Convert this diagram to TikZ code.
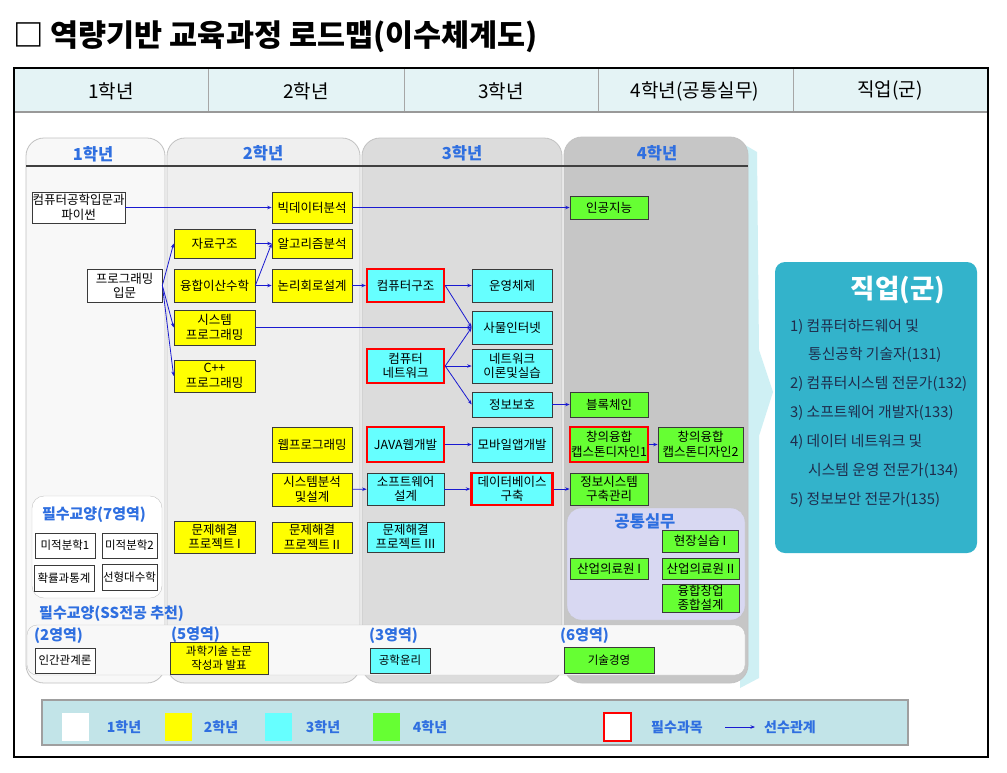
\documentclass[tikz,border=0pt]{standalone}
\usepackage{fontspec}
\setmainfont{Noto Sans CJK KR}
\usepackage{xcolor}
\usetikzlibrary{calc,positioning,arrows.meta}
\definecolor{HeadRow}{HTML}{E4F3F5}
\definecolor{PanelA}{HTML}{F8F8F8}
\definecolor{PanelB}{HTML}{EFEFEF}
\definecolor{PanelC}{HTML}{DCDCDC}
\definecolor{PanelD}{HTML}{C6C6C6}
\definecolor{PanelLine}{HTML}{C2C2C2}
\definecolor{Yel}{HTML}{FFFF00}
\definecolor{Aqua}{HTML}{66FFFF}
\definecolor{Lime}{HTML}{66FF33}
\definecolor{Link}{HTML}{1A1AD0}
\definecolor{TabBlue}{HTML}{2F6FE0}
\definecolor{Job}{HTML}{33B3CB}
\definecolor{JobText}{HTML}{1F2D4D}
\definecolor{Lav}{HTML}{D8D8F2}
\definecolor{Legend}{HTML}{C2E4E8}
\definecolor{Glow}{HTML}{CFF0F4}
\definecolor{Edge}{HTML}{3A3A3A}

\begin{document}
\begin{tikzpicture}[x=1pt,y=-1pt,
  course/.style={draw=Edge,line width=.7pt,inner sep=0pt,align=center,font=\fontsize{12.5}{14.5}\selectfont},
  wh/.style 2 args={minimum width=#1pt,minimum height=#2pt},
  freshman/.style={course,fill=white},
  sophomore/.style={course,fill=Yel},
  junior/.style={course,fill=Aqua},
  senior/.style={course,fill=Lime},
  small/.style={font=\fontsize{11.5}{13.5}\selectfont},
  required/.style={draw=red,line width=2.4pt},
  prereq/.style={-{Stealth[length=4.5pt,width=3.5pt]},Link,line width=.8pt},
  panel/.style={draw=PanelLine,line width=.8pt,rounded corners=18pt},
  tab/.style={text=TabBlue,font=\bfseries\fontsize{16.5}{18}\selectfont},
  area/.style={text=TabBlue,anchor=west,inner sep=0pt,font=\bfseries\fontsize{15}{17}\selectfont},
  keytext/.style={text=TabBlue,font=\bfseries\fontsize{14}{16}\selectfont},
  jobitem/.style={text=JobText,anchor=west,inner sep=0pt,font=\fontsize{14.8}{17}\selectfont}]
\fill[white] (0,0) rectangle (1007,772);
\useasboundingbox (0,0) rectangle (1007,772);
\node[anchor=west,inner sep=0pt,font=\bfseries\fontsize{30.5}{33}\selectfont] (title) at (13,37) {□ 역량기반 교육과정 로드맵(이수체계도)};

\fill[HeadRow] (14,68) rectangle (988,112);
\foreach \x in {208,404,598,793} \draw[gray!70] (\x,68) -- (\x,112);
\draw[gray!80,line width=1.5pt] (14,112) -- (988,112);
\foreach \cx/\txt [count=\i] in {111/1학년,306/2학년,501/3학년,695/4학년(공통실무),890/직업(군)}
  \node[font=\fontsize{19}{21}\selectfont] (head\i) at (\cx,91) {\txt};

\fill[Glow] (740,142) -- (757,152) -- (759,350) -- (773,392) -- (759,436) -- (759,678) -- (740,688) -- cycle;
\draw[panel,fill=PanelA] (26,138) rectangle (165,683);
\draw[panel,fill=PanelB] (167,138) rectangle (360,683);
\draw[panel,fill=PanelC] (362,138) rectangle (562,683);
\draw[panel,fill=PanelD] (564,137) rectangle (748,683);
\draw[black!75,line width=1.3pt] (26,166) -- (748,166);
\node[tab] (tab1) at (93,154) {1학년};
\node[tab] (tab2) at (263,153) {2학년};
\node[tab] (tab3) at (462,153) {3학년};
\node[tab] (tab4) at (657,153) {4학년};

\node[freshman,wh={93}{31}] (pyintro) at (78.5,207.5) {컴퓨터공학입문과\\파이썬};
\node[freshman,wh={75}{33}] (progintro) at (124.5,285.5) {프로그래밍\\입문};

\node[sophomore,wh={81}{29}] (datastruct) at (214.5,243.5) {자료구조};
\node[sophomore,wh={81}{33}] (discmath) at (214.5,285.5) {융합이산수학};
\node[sophomore,wh={81}{35}] (sysprog) at (214.5,327.5) {시스템\\프로그래밍};
\node[sophomore,wh={81}{32}] (cpp) at (214.5,376) {C++\\프로그래밍};
\node[sophomore,wh={81}{32}] (pblone) at (214.5,537) {문제해결\\프로젝트 I};
\node[sophomore,wh={80}{31}] (bigdata) at (312,207.5) {빅데이터분석};
\node[sophomore,wh={80}{29}] (algo) at (312,243.5) {알고리즘분석};
\node[sophomore,wh={80}{33}] (logic) at (312,285.5) {논리회로설계};
\node[sophomore,wh={80}{35}] (webprog) at (312,444.5) {웹프로그래밍};
\node[sophomore,wh={80}{33}] (sysanal) at (312,489.5) {시스템분석\\및설계};
\node[sophomore,wh={80}{31}] (pbltwo) at (312,537.5) {문제해결\\프로젝트 II};

\node[junior,required,wh={77}{33}] (arch) at (405.5,285.5) {컴퓨터구조};
\node[junior,required,wh={77}{34}] (net) at (405.5,366) {컴퓨터\\네트워크};
\node[junior,required,wh={77}{35}] (javaweb) at (405.5,444.5) {JAVA웹개발};
\node[junior,wh={77}{32}] (swdesign) at (405.5,489) {소프트웨어\\설계};
\node[junior,wh={77}{30}] (pblthree) at (405.5,537) {문제해결\\프로젝트 III};
\node[junior,wh={80}{33}] (os) at (512,285.5) {운영체제};
\node[junior,wh={80}{33}] (iot) at (512,327.5) {사물인터넷};
\node[junior,wh={80}{34}] (netlab) at (512,366) {네트워크\\이론및실습};
\node[junior,wh={80}{25}] (infosec) at (512,404.5) {정보보호};
\node[junior,wh={80}{35}] (mobile) at (512,444.5) {모바일앱개발};
\node[junior,required,wh={81}{32}] (dbbuild) at (512,489) {데이터베이스\\구축};

\node[senior,wh={78}{23}] (ai) at (609,207.5) {인공지능};
\node[senior,wh={78}{25}] (blockchain) at (609,404.5) {블록체인};
\node[senior,required,wh={78}{35}] (capone) at (609,444.5) {창의융합\\캡스톤디자인1};
\node[senior,wh={85}{35}] (captwo) at (700.5,444.5) {창의융합\\캡스톤디자인2};
\node[senior,wh={78}{32}] (infosys) at (609,489) {정보시스템\\구축관리};

\draw[draw=PanelLine,fill=Lav,rounded corners=14pt] (567,508) rectangle (745,620);
\node[tab] (common) at (645,521) {공통실무};
\node[senior,wh={76}{22}] (fieldone) at (700,541) {현장실습 I};
\node[senior,wh={78}{21}] (indone) at (609,568.5) {산업의료원 I};
\node[senior,wh={77}{21}] (indtwo) at (700.5,568.5) {산업의료원 II};
\node[senior,wh={77}{28}] (startup) at (700.5,598) {융합창업\\종합설계};

\draw[draw=PanelLine,fill=white,rounded corners=12pt] (32,496) rectangle (162,598);
\node[area,anchor=center] (genseven) at (94,515) {필수교양(7영역)};
\node[freshman,small,wh={60}{25}] (calcone) at (65,545.5) {미적분학1};
\node[freshman,small,wh={55}{25}] (calctwo) at (129.5,545.5) {미적분학2};
\node[freshman,small,wh={60}{26}] (prob) at (64,578) {확률과통계};
\node[freshman,small,wh={55}{26}] (linalg) at (129.5,577.5) {선형대수학};

\node[area] (sslabel) at (39,614) {필수교양(SS전공 추천)};
\draw[draw=PanelLine,fill=PanelA,rounded corners=10pt] (27,625) rectangle (745,675);
\node[area] (areatwo) at (34,636) {(2영역)};
\node[area] (areafive) at (171,635) {(5영역)};
\node[area] (areathree) at (369,636) {(3영역)};
\node[area] (areasix) at (560,636) {(6영역)};
\node[freshman,small,wh={60}{25}] (human) at (65,660.5) {인간관계론};
\node[sophomore,small,wh={98}{32}] (paper) at (219,658) {과학기술 논문\\작성과 발표};
\node[junior,small,wh={60}{25}] (ethics) at (400,660.5) {공학윤리};
\node[senior,small,wh={90}{26}] (techmgmt) at (609,660) {기술경영};

\draw[prereq] (pyintro) -- (bigdata);
\draw[prereq] (bigdata) -- (ai);
\draw[prereq] (progintro.east) -- (datastruct.west);
\draw[prereq] (progintro.east) -- (sysprog.west);
\draw[prereq] (progintro.east) -- (cpp.west);
\draw[prereq] (datastruct) -- (algo);
\draw[prereq] (discmath.east) -- (algo.west);
\draw[prereq] (discmath) -- (logic);
\draw[prereq] (logic) -- (arch);
\draw[prereq] (sysprog) -- (iot);
\draw[prereq] (arch) -- (os);
\draw[prereq] (arch.east) -- (iot.west);
\draw[prereq] (net.east) -- (iot.west);
\draw[prereq] (net) -- (netlab);
\draw[prereq] (net.east) -- (infosec.west);
\draw[prereq] (infosec) -- (blockchain);
\draw[prereq] (javaweb) -- (mobile);
\draw[prereq] (capone) -- (captwo);
\draw[prereq] (sysanal) -- (swdesign);
\draw[prereq] (swdesign) -- (dbbuild);
\draw[prereq] (dbbuild) -- (infosys);

\fill[Job,rounded corners=10pt] (775,262) rectangle (977,553);
\node[text=white,font=\bfseries\fontsize{26.5}{29}\selectfont] (jobtitle) at (898,290) {직업(군)};
\node[jobitem] (jobone) at (790,327) {1) 컴퓨터하드웨어 및};
\node[jobitem] (jobonecont) at (808,355) {통신공학 기술자(131)};
\node[jobitem] (jobtwo) at (790,384) {2) 컴퓨터시스템 전문가(132)};
\node[jobitem] (jobthree) at (790,413) {3) 소프트웨어 개발자(133)};
\node[jobitem] (jobfour) at (790,442) {4) 데이터 네트워크 및};
\node[jobitem] (jobfourcont) at (808,471) {시스템 운영 전문가(134)};
\node[jobitem] (jobfive) at (790,500) {5) 정보보안 전문가(135)};

\draw[draw=gray!75,fill=Legend,line width=1.2pt] (42,700) rectangle (908,745);
\foreach \sx/\col/\lx/\txt [count=\i] in {75/white/124/1학년,178/Yel/221/2학년,278/Aqua/323/3학년,386/Lime/430/4학년}{
  \node[fill=\col,minimum width=27pt,minimum height=28pt] (swatch\i) at (\sx,727) {};
  \node[keytext] (keylabel\i) at (\lx,727) {\txt};
}
\node[draw=red,line width=2.4pt,fill=white,minimum width=27pt,minimum height=28pt] (reqkey) at (617.5,727) {};
\node[keytext] (reqlabel) at (677,727) {필수과목};
\coordinate (keytail) at (725,727);
\coordinate (keyhead) at (755,727);
\draw[prereq] (keytail) -- (keyhead);
\node[keytext] (prereqlabel) at (790,727) {선수관계};

\draw[line width=2pt] (14,68) rectangle (988,757);
\end{tikzpicture}
\end{document}
